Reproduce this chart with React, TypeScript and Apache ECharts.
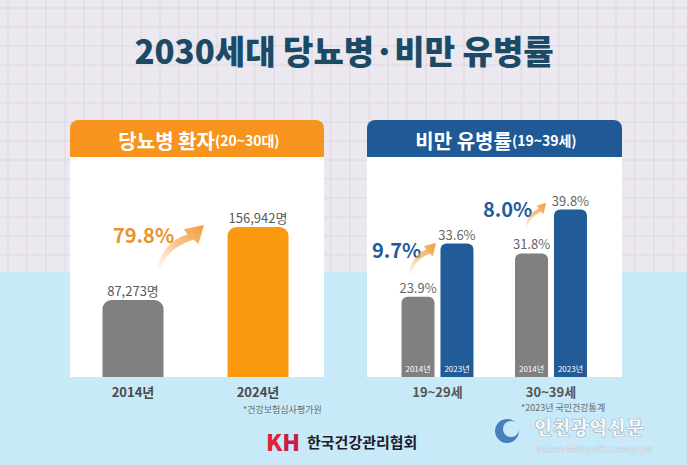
import React, { useEffect, useRef } from "react";
import * as echarts from "echarts";

const titleText = "2030세대 당뇨병·비만 유병률";

const diabetesTitle = "당뇨병 환자";
const diabetesRange = "(20~30대)";
const diabetesYears = ["2014년", "2024년"];
const diabetesPatients = [87273, 156942];
const diabetesIncrease = "79.8%";
const diabetesSource = "*건강보험심사평가원";

const obesityTitle = "비만 유병률";
const obesityRange = "(19~39세)";
const obesityAgeGroups = ["19~29세", "30~39세"];
const obesity2014 = [23.9, 31.8];
const obesity2023 = [33.6, 39.8];
const obesityYearLabels = ["2014년", "2023년"];
const obesityIncrease = ["9.7%", "8.0%"];
const obesitySource = "*2023년 국민건강통계";

const FONT = "'Noto Sans CJK KR', 'Noto Sans', sans-serif";

const ARROW_D =
  "M0,100 C4,62 30,32 64,22 L56,10 L100,0 L88,44 L77,34 C44,46 16,66 8,100 Z";

export default function App() {
  const ref = useRef<HTMLDivElement>(null);

  useEffect(() => {
    document.body.style.margin = "0";
    if (!ref.current) return;
    try {
      echarts.graphic.registerShape("curveArrow", echarts.graphic.extendPath(ARROW_D, {}) as any);
    } catch (e) {}
    const chart = echarts.init(ref.current, null, { renderer: "svg" });

    const arrowFill = () =>
      new echarts.graphic.LinearGradient(0, 1, 1, 0, [
        { offset: 0, color: "rgba(247,190,120,0.12)" },
        { offset: 0.5, color: "rgba(245,170,85,0.7)" },
        { offset: 1, color: "#f39a3a" },
      ]);

    const gridLines: any[] = [];
    for (let x = 8; x < 687; x += 19) {
      gridLines.push({ type: "line", shape: { x1: x, y1: 0, x2: x, y2: 272 }, style: { stroke: "#dcd7e3", lineWidth: 1 }, silent: true });
    }
    for (let y = 8; y < 272; y += 19) {
      gridLines.push({ type: "line", shape: { x1: 0, y1: y, x2: 687, y2: y }, style: { stroke: "#dcd7e3", lineWidth: 1 }, silent: true });
    }

    const graphics: any[] = [
      { type: "rect", shape: { x: 0, y: 0, width: 687, height: 272 }, style: { fill: "#ebe8ef" }, silent: true },
      { type: "rect", shape: { x: 0, y: 272, width: 687, height: 193 }, style: { fill: "#c7e9f8" }, silent: true },
      ...gridLines,
      // title
      { type: "text", x: 344, y: 50, style: { text: titleText, fill: "#1b4a66", font: `900 33px ${FONT}`, textAlign: "center", textVerticalAlign: "middle" } },
      // left panel
      { type: "rect", shape: { x: 70, y: 120, width: 254, height: 257, r: [8, 8, 0, 0] }, style: { fill: "#ffffff" } },
      { type: "rect", shape: { x: 70, y: 120, width: 254, height: 37, r: [8, 8, 0, 0] }, style: { fill: "#f7941d" } },
      {
        type: "text", x: 199, y: 140,
        style: {
          text: `{a|${diabetesTitle}}{b|${diabetesRange}}`, textAlign: "center", textVerticalAlign: "middle",
          rich: {
            a: { fill: "#ffffff", font: `bold 20px ${FONT}` },
            b: { fill: "#ffffff", font: `bold 14px ${FONT}` },
          },
        },
      },
      // right panel
      { type: "rect", shape: { x: 367, y: 120, width: 255, height: 257, r: [8, 8, 0, 0] }, style: { fill: "#ffffff" } },
      { type: "rect", shape: { x: 367, y: 120, width: 255, height: 37, r: [8, 8, 0, 0] }, style: { fill: "#1f5a96" } },
      {
        type: "text", x: 496, y: 140,
        style: {
          text: `{a|${obesityTitle}}{b|${obesityRange}}`, textAlign: "center", textVerticalAlign: "middle",
          rich: {
            a: { fill: "#ffffff", font: `bold 20px ${FONT}` },
            b: { fill: "#ffffff", font: `bold 14px ${FONT}` },
          },
        },
      },
      // callouts
      { type: "text", x: 113, y: 234, style: { text: diabetesIncrease, fill: "#e8922d", font: `bold 20px ${FONT}`, textVerticalAlign: "middle" } },
      { type: "curveArrow", x: 158, y: 225, scaleX: 0.46, scaleY: 0.43, style: { fill: arrowFill() } },
      { type: "text", x: 372, y: 249, style: { text: obesityIncrease[0], fill: "#1f5c99", font: `bold 20px ${FONT}`, textVerticalAlign: "middle" } },
      { type: "curveArrow", x: 409, y: 243, scaleX: 0.27, scaleY: 0.31, style: { fill: arrowFill() } },
      { type: "text", x: 483, y: 208, style: { text: obesityIncrease[1], fill: "#1f5c99", font: `bold 20px ${FONT}`, textVerticalAlign: "middle" } },
      { type: "curveArrow", x: 525, y: 203, scaleX: 0.21, scaleY: 0.26, style: { fill: arrowFill() } },
      // sources
      { type: "text", x: 243, y: 409, style: { text: diabetesSource, fill: "#6b6b6b", font: `9px ${FONT}`, textVerticalAlign: "middle" } },
      { type: "text", x: 521, y: 407, style: { text: obesitySource, fill: "#6b6b6b", font: `9px ${FONT}`, textVerticalAlign: "middle" } },
      // KH logo
      {
        type: "text", x: 266, y: 441,
        style: {
          text: "{k|K}{h|H}", textVerticalAlign: "middle",
          rich: {
            k: { fill: "#e11f3c", font: `900 23px ${FONT}` },
            h: { fill: "#c81e45", font: `900 23px ${FONT}` },
          },
        },
      },
      { type: "text", x: 307, y: 441, style: { text: "한국건강관리협회", fill: "#1d1d2b", font: `bold 15px ${FONT}`, textVerticalAlign: "middle" } },
      // watermark
      { type: "circle", shape: { cx: 507, cy: 431, r: 12 }, style: { fill: "#2f6fb0", opacity: 0.85 } },
      { type: "circle", shape: { cx: 511, cy: 429, r: 8 }, style: { fill: "#c7e9f8" } },
      {
        type: "text", x: 534, y: 426,
        style: { text: "인천광역신문", fill: "rgba(255,255,255,0.92)", stroke: "rgba(110,120,130,0.6)", lineWidth: 1, font: `900 19px 'Noto Serif CJK KR', ${FONT}`, textVerticalAlign: "middle" },
      },
      {
        type: "text", x: 537, y: 448,
        style: { text: "Incheon Metropolitan newspaper", fill: "rgba(255,255,255,0.95)", stroke: "rgba(110,120,130,0.55)", lineWidth: 0.5, font: `7.5px ${FONT}`, textVerticalAlign: "middle" },
      },
    ];

    const option: any = {
      animation: false,
      graphic: graphics,
      grid: [
        { left: 70.5, width: 250, top: 182, height: 195 },
        { left: 380.75, width: 227, top: 181, height: 196 },
      ],
      xAxis: [
        {
          type: "category", gridIndex: 0, data: diabetesYears,
          axisLine: { show: false }, axisTick: { show: false },
          axisLabel: { color: "#4a4a4a", fontSize: 13, fontWeight: "bold", margin: 8, fontFamily: FONT },
        },
        {
          type: "category", gridIndex: 1, data: obesityAgeGroups,
          axisLine: { show: false }, axisTick: { show: false },
          axisLabel: { color: "#555", fontSize: 13, fontWeight: "bold", margin: 8, fontFamily: FONT },
        },
      ],
      yAxis: [
        { type: "value", gridIndex: 0, min: 13800, max: 200000, show: false, splitLine: { show: false } },
        { type: "value", gridIndex: 1, min: 9.3, max: 45, show: false, splitLine: { show: false } },
      ],
      series: [
        {
          type: "bar", xAxisIndex: 0, yAxisIndex: 0, barWidth: 61,
          data: diabetesPatients.map((v, i) => ({
            value: v,
            itemStyle: { color: i === 0 ? "#808080" : "#fb9a0e", borderRadius: [9, 9, 0, 0] },
          })),
          label: {
            show: true, position: "top", distance: 3, color: "#5a5a5a", fontSize: 13, fontFamily: FONT,
            formatter: (p: any) => diabetesPatients[p.dataIndex].toLocaleString("en-US") + "명",
          },
        },
        {
          type: "bar", xAxisIndex: 1, yAxisIndex: 1, stack: "y2014", barWidth: 33, barGap: "18%",
          data: obesity2014,
          itemStyle: { color: "#808080", borderRadius: [6, 6, 0, 0] },
          label: { show: true, position: "insideBottom", distance: 5, color: "#ffffff", fontSize: 8, fontFamily: FONT, formatter: () => obesityYearLabels[0] },
        },
        {
          type: "bar", xAxisIndex: 1, yAxisIndex: 1, stack: "y2014", barWidth: 33, barGap: "18%",
          data: obesity2014.map(() => 0),
          itemStyle: { color: "rgba(0,0,0,0)" },
          label: { show: true, position: "top", distance: 3, color: "#666", fontSize: 13, fontFamily: FONT, formatter: (p: any) => obesity2014[p.dataIndex].toFixed(1) + "%" },
        },
        {
          type: "bar", xAxisIndex: 1, yAxisIndex: 1, stack: "y2023", barWidth: 33, barGap: "18%",
          data: obesity2023,
          itemStyle: { color: "#215c98", borderRadius: [6, 6, 0, 0] },
          label: { show: true, position: "insideBottom", distance: 5, color: "#ffffff", fontSize: 8, fontFamily: FONT, formatter: () => obesityYearLabels[1] },
        },
        {
          type: "bar", xAxisIndex: 1, yAxisIndex: 1, stack: "y2023", barWidth: 33, barGap: "18%",
          data: obesity2023.map(() => 0),
          itemStyle: { color: "rgba(0,0,0,0)" },
          label: { show: true, position: "top", distance: 3, color: "#666", fontSize: 13, fontFamily: FONT, formatter: (p: any) => obesity2023[p.dataIndex].toFixed(1) + "%" },
        },
      ],
    };

    chart.setOption(option);
    return () => chart.dispose();
  }, []);

  return <div ref={ref} style={{ width: 687, height: 465 }} />;
}
